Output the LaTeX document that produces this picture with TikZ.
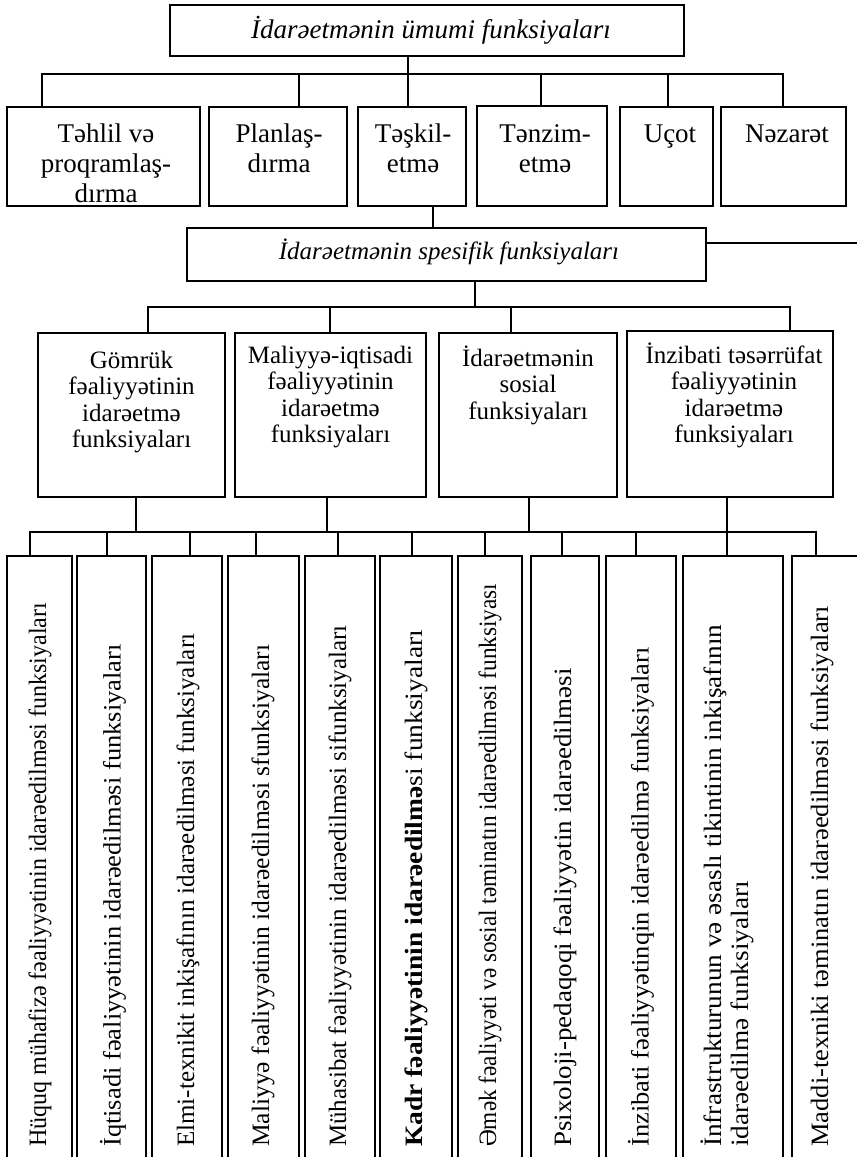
\documentclass[tikz,border=0pt]{standalone}
\usepackage{fontspec}
\setmainfont{Liberation Serif}
\newcommand{\sx}[2]{\scalebox{#1}[1]{#2}}
\begin{document}
\begin{tikzpicture}[x=1pt,y=-1pt,
  bx/.style={draw, line width=1.6pt, inner sep=0pt, fill=white},
  ln/.style={line width=1.4pt, line cap=rect},
  tA/.style={font=\fontsize{27}{30}\selectfont, align=center, anchor=north, inner sep=0pt},
  tB/.style={font=\fontsize{25}{26.5}\selectfont, align=center, anchor=north, inner sep=0pt},
  tC/.style={font=\fontsize{25}{27}\selectfont, align=left, anchor=west, rotate=90, inner sep=0pt},
  tT/.style={font=\fontsize{27}{30}\selectfont\itshape, inner sep=0pt}]
\useasboundingbox (0,0) rectangle (857,1157);
\fill[white] (0,0) rectangle (857,1157);
\clip (0,0) rectangle (857,1157);

% ---- title
\node[bx, minimum width=514pt, minimum height=51pt] (T) at (427,30.5) {};
\node[tT] (Tt) at (431,30) {İdarəetmənin ümumi funksiyaları};

% ---- row 1
\node[bx, minimum width=193pt, minimum height=99pt] (a1) at (103.5,156.5) {};
\node[bx, minimum width=138pt, minimum height=99pt] (a2) at (278,156.5) {};
\node[bx, minimum width=108pt, minimum height=99pt] (a3) at (412,156.5) {};
\node[bx, minimum width=130pt, minimum height=100pt] (a4) at (542,156) {};
\node[bx, minimum width=93pt, minimum height=99pt] (a5) at (666.5,156.5) {};
\node[bx, minimum width=125pt, minimum height=99pt] (a6) at (783.5,156.5) {};
\node[tA] (a1t) at (106,119) {\rule{0pt}{0.85em}Təhlil və\\proqramlaş-\\dırma};
\node[tA] (a2t) at (279,119) {\rule{0pt}{0.85em}Planlaş-\\dırma};
\node[tA] (a3t) at (413,119) {\rule{0pt}{0.85em}Təşkil-\\etmə};
\node[tA] (a4t) at (545,119) {\rule{0pt}{0.85em}Tənzim-\\etmə};
\node[tA] (a5t) at (670,119) {\rule{0pt}{0.85em}Uçot};
\node[tA] (a6t) at (787,119) {\rule{0pt}{0.85em}Nəzarət};

% ---- specific
\node[bx, minimum width=519pt, minimum height=53pt] (S) at (446.5,254.5) {};
\node[tT, font=\fontsize{25}{28}\selectfont\itshape] (St) at (449,252) {İdarəetmənin spesifik funksiyaları};

% ---- row 2
\node[bx, minimum width=187pt, minimum height=164pt] (b1) at (131.5,415) {};
\node[bx, minimum width=191pt, minimum height=164pt] (b2) at (330.5,415) {};
\node[bx, minimum width=178pt, minimum height=164pt] (b3) at (528,415) {};
\node[bx, minimum width=206pt, minimum height=166pt] (b4) at (730,414) {};
\node[tB] (b1t) at (131.5,347) {\rule{0pt}{0.85em}Gömrük\\fəaliyyətinin\\idarəetmə\\funksiyaları};
\node[tB] (b2t) at (330.5,342) {\rule{0pt}{0.85em}Maliyyə-iqtisadi\\fəaliyyətinin\\idarəetmə\\funksiyaları};
\node[tB] (b3t) at (528,345) {\rule{0pt}{0.85em}İdarəetmənin\\sosial\\funksiyaları};
\node[tB] (b4t) at (734,342) {\rule{0pt}{0.85em}İnzibati təsərrüfat\\fəaliyyətinin\\idarəetmə\\funksiyaları};

% ---- row 3
\foreach \n/\cx/\w in {c1/39.5/65, c2/111.5/69, c3/187/70, c4/263.5/71, c5/340/70, c6/416/72, c7/490/64, c8/565/68, c9/641/70, c10/733/100, c11/836/88}
  \node[bx, minimum width=\w pt, minimum height=640pt] (\n) at (\cx,876) {};
\node[tC] (c1t) at (40,1147) {\sx{0.96}{Hüquq mühafizə fəaliyyətinin idarəedilməsi funksiyaları}};
\node[tC] (c2t) at (113,1147) {\sx{1.06}{İqtisadi fəaliyyətinin idarəedilməsi funksiyaları}};
\node[tC] (c3t) at (188,1147) {\sx{1.0}{Elmi-texnikit inkişafının idarəedilməsi funksiyaları}};
\node[tC] (c4t) at (263,1147) {\sx{1.02}{Maliyyə fəaliyyətinin idarəedilməsi sfunksiyaları}};
\node[tC] (c5t) at (340,1147) {\sx{1.0}{Mühasibat fəaliyyətinin idarəedilməsi sifunksiyaları}};
\node[tC] (c6t) at (416,1147) {\sx{1.1}{\textbf{Kadr fəaliyyətinin idarəedilmə}si funksiyaları}};
\node[tC] (c7t) at (490,1147) {\sx{0.93}{Əmək fəaliyyəti və sosial təminatın idarəedilməsi funksiyası}};
\node[tC] (c8t) at (565,1147) {\sx{1.08}{Psixoloji-pedaqoqi fəaliyyətin idarəedilməsi}};
\node[tC] (c9t) at (641,1147) {\sx{1.06}{İnzibati fəaliyyətinqin idarəedilmə funksiyaları}};
\node[tC] (c10t) at (727,1147) {\sx{1.09}{İnfrastrukturunun və əsaslı tikintinin inkişafının}\\\sx{1.09}{idarəedilmə funksiyaları}};
\node[tC] (c11t) at (822,1147) {\sx{1.06}{Maddi-texniki təminatın idarəedilməsi funksiyaları}};

% ---- connectors level 1
\coordinate (u0) at (408,74);
\coordinate (uL) at (42,74);
\coordinate (uR) at (783,74);
\draw[ln] (T.south -| u0) -- (u0);
\draw[ln] (uL) -- (uR);
\foreach \x/\n in {42/a1, 299/a2, 408/a3, 541/a4, 668/a5, 783/a6}
  \draw[ln] (\x,74) -- (\x,74 |- \n.north);

% ---- row1 to specific
\coordinate (v0) at (433,217);
\draw[ln] (a3.south -| v0) -- (S.north -| v0);
\coordinate (sR) at (860,243);
\draw[ln] (S.east |- sR) -- (sR);

% ---- specific to row 2
\coordinate (w0) at (475,307);
\coordinate (wL) at (148,307);
\coordinate (wR) at (790,307);
\draw[ln] (S.south -| w0) -- (w0);
\draw[ln] (wL) -- (wR);
\foreach \x/\n in {148/b1, 330/b2, 511/b3, 790/b4}
  \draw[ln] (\x,307) -- (\x,307 |- \n.north);

% ---- row 2 to row 3
\coordinate (zL) at (30,532);
\coordinate (zR) at (816,532);
\foreach \x/\n in {136/b1, 327/b2, 529/b3, 727/b4}
  \draw[ln] (\x,532) -- (\x,532 |- \n.south);
\draw[ln] (zL) -- (zR);
\foreach \x/\n in {30/c1, 107/c2, 190/c3, 256/c4, 338/c5, 412/c6, 485/c7, 562/c8, 636/c9, 727/c10, 816/c11}
  \draw[ln] (\x,532) -- (\x,532 |- \n.north);
\end{tikzpicture}
\end{document}
